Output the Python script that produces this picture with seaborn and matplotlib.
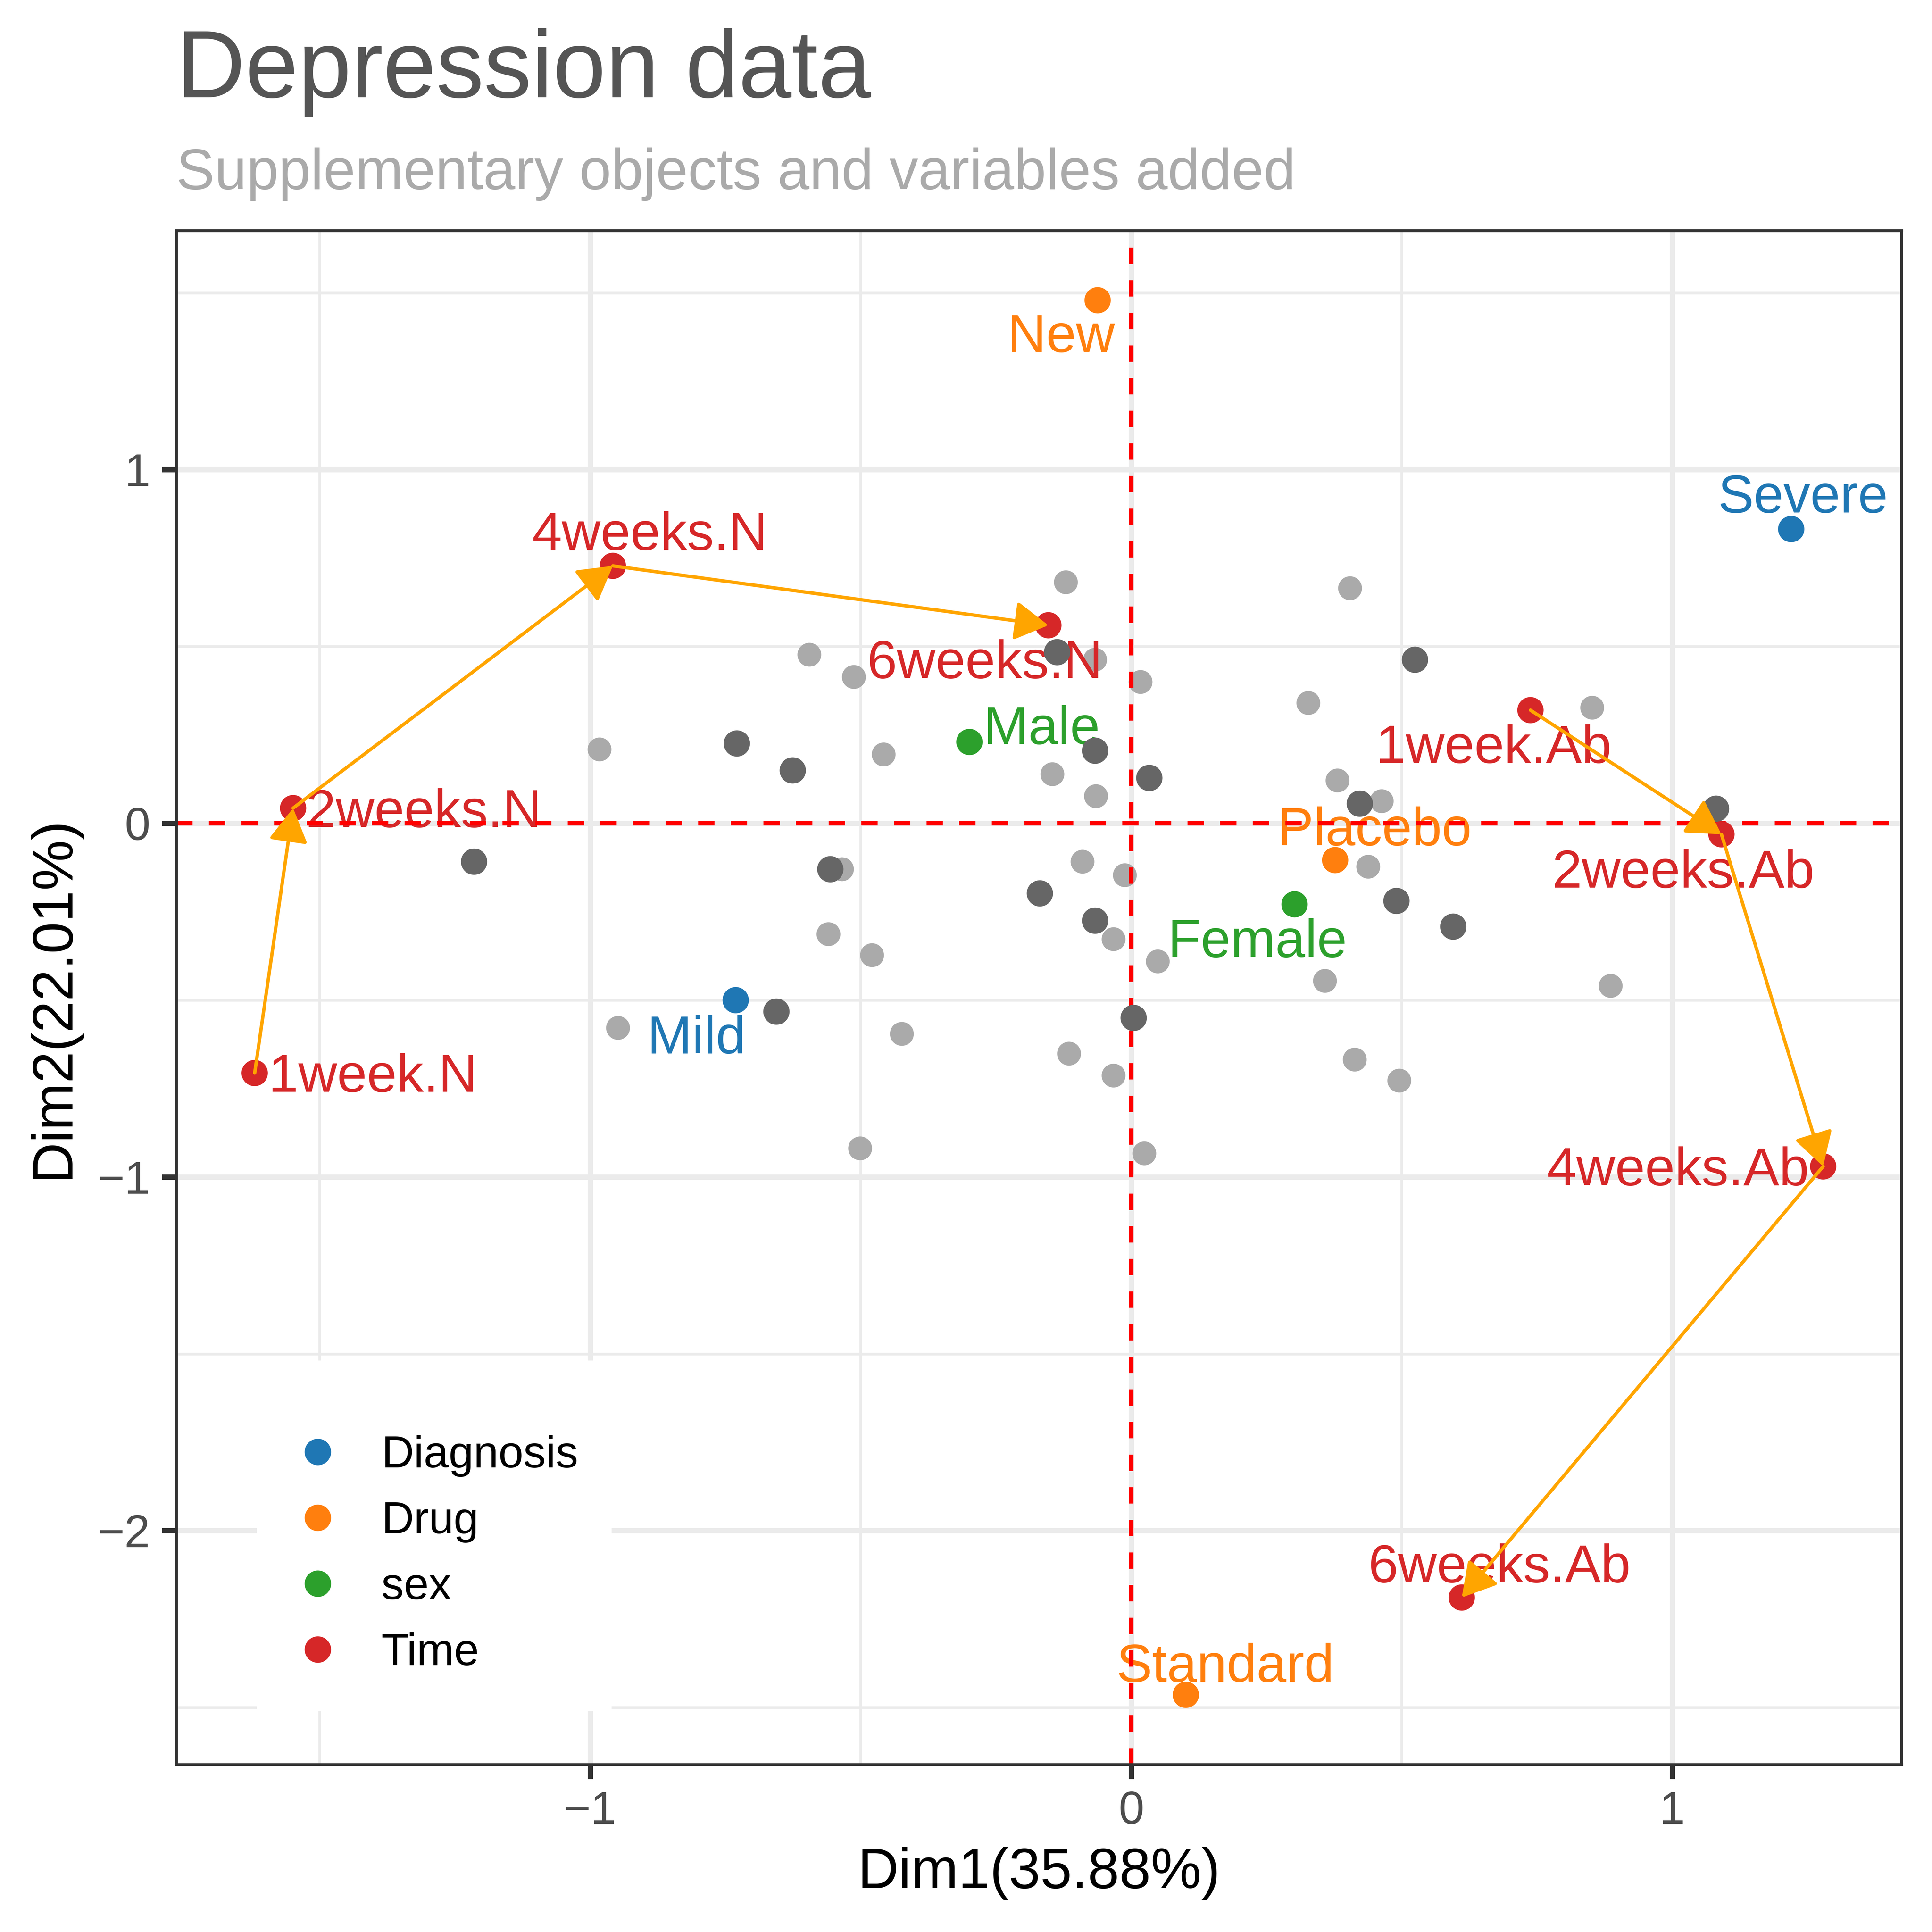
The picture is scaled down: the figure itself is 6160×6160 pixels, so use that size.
import numpy as np
import pandas as pd
import matplotlib
matplotlib.use('Agg')
import matplotlib.pyplot as plt
import seaborn as sns
from matplotlib.patches import Rectangle
from matplotlib.ticker import MultipleLocator

# active individuals (dark grey)
act_x = [0.524, -0.137, -0.067, 0.033, -0.729, -0.626, 0.422, 1.081,
         -1.215, -0.556, -0.169, -0.067, 0.490, 0.595, -0.656, 0.004]
act_y = [0.463, 0.484, 0.206, 0.129, 0.226, 0.150, 0.056, 0.042,
         -0.108, -0.129, -0.198, -0.275, -0.219, -0.292, -0.532, -0.550]

# supplementary individuals (light grey)
sup_x = [-0.121, 0.404, -0.595, -0.513, -0.067, 0.017, 0.327, 0.852,
         -0.983, -0.458, -0.146, -0.065, 0.381, 0.463, -0.535, -0.090,
         -0.012, 0.438, -0.560, -0.479, -0.033, 0.049, 0.358, 0.886,
         -0.949, -0.424, -0.115, -0.033, 0.413, 0.495, -0.501, 0.024]
sup_y = [0.682, 0.665, 0.477, 0.414, 0.463, 0.400, 0.341, 0.327,
         0.209, 0.195, 0.139, 0.077, 0.122, 0.063, -0.129, -0.108,
         -0.146, -0.122, -0.313, -0.372, -0.327, -0.390, -0.445, -0.459,
         -0.578, -0.595, -0.651, -0.713, -0.668, -0.727, -0.919, -0.933]

# supplementary variable categories
cat_names = ['Mild', 'Severe', 'New', 'Placebo', 'Standard', 'Male', 'Female',
             '1week.N', '2weeks.N', '4weeks.N', '6weeks.N',
             '1week.Ab', '2weeks.Ab', '4weeks.Ab', '6weeks.Ab']
cat_group = ['Diagnosis', 'Diagnosis', 'Drug', 'Drug', 'Drug', 'sex', 'sex',
             'Time', 'Time', 'Time', 'Time', 'Time', 'Time', 'Time', 'Time']
cat_x = [-0.731, 1.220, -0.062, 0.377, 0.101, -0.299, 0.302,
         -1.620, -1.549, -0.958, -0.153, 0.738, 1.091, 1.279, 0.611]
cat_y = [-0.500, 0.832, 1.479, -0.104, -2.464, 0.230, -0.229,
         -0.706, 0.043, 0.728, 0.560, 0.320, -0.031, -0.970, -2.189]

groups = ['Diagnosis', 'Drug', 'sex', 'Time']
group_colors = ['#1F77B4', '#FF7F0E', '#2CA02C', '#D62728']

# time trajectories
traj_N = ['1week.N', '2weeks.N', '4weeks.N', '6weeks.N']
traj_Ab = ['1week.Ab', '2weeks.Ab', '4weeks.Ab', '6weeks.Ab']

# label placement (offset from point, in points, text baseline)
label_offsets = {
    'Mild': (-10.2, -13.9), 'Severe': (3.0, 4.3), 'New': (-9.5, -13.5),
    'Placebo': (10.3, 3.9), 'Standard': (10.3, 3.4), 'Male': (18.9, -0.5),
    'Female': (-9.7, -13.7), '1week.N': (30.8, -4.9), '2weeks.N': (34.1, -4.9),
    '4weeks.N': (9.6, 4.2), '6weeks.N': (-16.6, -13.8), '1week.Ab': (-9.6, -13.7),
    '2weeks.Ab': (-10.0, -13.9), '4weeks.Ab': (-37.9, -4.95), '6weeks.Ab': (9.8, 4.0),
}

sns.set_style('white')
plt.rcParams['font.family'] = ['Liberation Sans', 'DejaVu Sans']

W = 6160
fig = plt.figure(figsize=(7, 7), dpi=880)
ax = fig.add_axes([562 / W, 1 - 5626 / W, (6063 - 562) / W, (5626 - 735) / W])

cat_df = pd.DataFrame({'x': cat_x, 'y': cat_y, 'group': cat_group, 'name': cat_names})
color_of = dict(zip(groups, group_colors))

# limits: data range expanded by 5%
all_x = np.concatenate([act_x, sup_x, cat_x])
all_y = np.concatenate([act_y, sup_y, cat_y])
dx = (all_x.max() - all_x.min()) * 0.05
dy = (all_y.max() - all_y.min()) * 0.05

sns.scatterplot(x=sup_x, y=sup_y, color='#AAAAAA', s=38.7, linewidth=0, ax=ax, zorder=1.5)
sns.scatterplot(x=act_x, y=act_y, color='#666666', s=47, linewidth=0, ax=ax, zorder=3)
sns.scatterplot(data=cat_df, x='x', y='y', hue='group', hue_order=groups,
                palette=group_colors, s=47, linewidth=0, ax=ax, zorder=3.5)

for _, r in cat_df.iterrows():
    ox, oy = label_offsets[r['name']]
    ax.annotate(r['name'], (r['x'], r['y']), xytext=(ox, oy), textcoords='offset points',
                ha='center', va='baseline', fontsize=14, color=color_of[r['group']], zorder=2)

ax.axhline(0, color='red', lw=1.15, ls=(0, (3.7, 3.7)), zorder=2.5)
ax.axvline(0, color='red', lw=1.15, ls=(0, (3.7, 3.7)), zorder=2.5)

pos = dict(zip(cat_names, zip(cat_x, cat_y)))
for traj in [traj_N, traj_Ab]:
    for a, b in zip(traj[:-1], traj[1:]):
        ax.annotate('', xy=pos[b], xytext=pos[a],
                    arrowprops=dict(arrowstyle='-|>,head_length=7.5,head_width=4.35',
                                    mutation_scale=1, color='#FFA500', lw=0.88,
                                    shrinkA=0, shrinkB=0, joinstyle='round'),
                    zorder=5)

ax.set_xlim(all_x.min() - dx, all_x.max() + dx)
ax.set_ylim(all_y.min() - dy, all_y.max() + dy)

ax.xaxis.set_major_locator(MultipleLocator(1))
ax.yaxis.set_major_locator(MultipleLocator(1))
ax.xaxis.set_minor_locator(MultipleLocator(0.5))
ax.yaxis.set_minor_locator(MultipleLocator(0.5))
ax.set_axisbelow(True)
ax.grid(which='major', color='#EBEBEB', lw=1.4)
ax.grid(which='minor', color='#EBEBEB', lw=0.7)
ax.tick_params(which='major', length=3.8, width=1.4, color='#333333',
               labelcolor='#4D4D4D', labelsize=12, pad=3,
               bottom=True, left=True)
ax.tick_params(which='minor', length=0)
for sp in ax.spines.values():
    sp.set_color('#333333')
    sp.set_linewidth(0.75)

ax.set_xlabel('Dim1(35.88%)', fontsize=14.8, color='black', labelpad=3.5)
ax.set_ylabel('Dim2(22.01%)', fontsize=14.8, color='black', labelpad=4.6)

# legend background (covers grid like ggplot)
ax.add_patch(Rectangle((0.0467, 0.0348), 0.2056, 0.2285, transform=ax.transAxes,
                       facecolor='white', edgecolor='none', zorder=0.8))
sns.move_legend(ax, loc='upper left', bbox_to_anchor=(0.056, 0.2148), title=None,
                frameon=False, fontsize=11.7, borderpad=0, handlelength=2.0,
                handletextpad=0.42, labelspacing=0.53, borderaxespad=0)
leg = ax.get_legend()
for h in leg.legend_handles:
    try:
        h.set_markersize(6.9)
        h.set_markeredgewidth(0)
    except AttributeError:
        h.set_sizes([47.6])
        h.set_linewidth(0)
for t in leg.get_texts():
    t.set_color('black')

fig.text(562 / W, 1 - 310 / W, 'Depression data', fontsize=24.9, color='#555555',
         ha='left', va='baseline')
fig.text(562 / W, 1 - 603 / W, 'Supplementary objects and variables added', fontsize=15,
         color='#AAAAAA', ha='left', va='baseline')

fig.savefig('out.png', dpi=880)
